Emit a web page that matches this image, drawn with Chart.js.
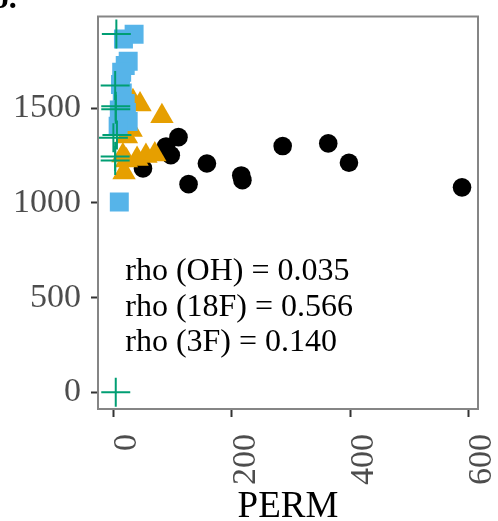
<!DOCTYPE html>
<html>
<head>
<meta charset="utf-8">
<script src="https://cdn.jsdelivr.net/npm/chart.js@4.4.0/dist/chart.umd.min.js"></script>
<style>
  html, body { margin: 0; padding: 0; background: #fff; }
</style>
</head>
<body>
<canvas id="permChart" width="498" height="521"></canvas>
<script>
// OH (black circles)
const ohPerm = [50, 89, 97, 110, 127, 158, 216, 218, 286, 363, 398, 589];
const ohVal  = [1182, 1298, 1252, 1347, 1099, 1208, 1145, 1120, 1300, 1314, 1212, 1082];
// 18F (orange triangles)
const f18Perm = [33, 45, 82, 22, 30, 16, 22, 40, 55, 70, 18];
const f18Val  = [1536, 1520, 1458, 1350, 1385, 1250, 1224, 1232, 1248, 1256, 1160];
// blue squares
const sqPerm = [35, 17, 25, 20, 14, 12, 15, 20, 10, 22, 18, 25, 8, 10];
const sqVal  = [1890, 1865, 1748, 1725, 1690, 1625, 1580, 1525, 1490, 1478, 1440, 1430, 1405, 1005];
// 3F (green crosses)
const f3Perm = [5, 3, 4, 4, 6, 0, 3, 3, 4];
const f3Val  = [1891, 1620, 1510, 1495, 1359, 1344, 1245, 1224, 0];

const xTicks = [0, 200, 400, 600];
const yTicks = [0, 500, 1000, 1500];
const rhoLabels = ["rho (OH) = 0.035", "rho (18F) = 0.566", "rho (3F) = 0.140"];
const rhoY = [635, 448, 260];
const rhoX = 20;

const serif = "'Liberation Serif', 'Times New Roman', serif";

function pts(xs, ys) {
  return xs.map((x, i) => ({ x: x, y: ys[i] }));
}

// no extra room for edge labels, the plot box is fixed
function noPad(s) {
  s.paddingLeft = 0; s.paddingRight = 0; s.paddingTop = 0; s.paddingBottom = 0;
}

const extras = {
  id: "extras",
  afterDatasetsDraw(chart) {
    const ctx = chart.ctx;
    const a = chart.chartArea;
    ctx.save();
    ctx.strokeStyle = "#858585";
    ctx.lineWidth = 2;
    ctx.strokeRect(a.left, a.top, a.right - a.left, a.bottom - a.top);
    // rho text
    const xs = chart.scales.x, ys = chart.scales.y;
    ctx.fillStyle = "#000";
    ctx.font = "32px " + serif;
    ctx.textAlign = "left";
    ctx.textBaseline = "middle";
    rhoLabels.forEach((t, i) => {
      ctx.fillText(t, xs.getPixelForValue(rhoX), ys.getPixelForValue(rhoY[i]));
    });
    // panel tag, cut off at the top
    ctx.font = "bold 32px " + serif;
    ctx.textBaseline = "alphabetic";
    ctx.fillText("b.", -9, 8);
    ctx.restore();
  }
};

new Chart(document.getElementById("permChart"), {
  type: "scatter",
  data: {
    datasets: [
      { data: pts(f3Perm, f3Val), pointStyle: "cross", pointRadius: 14.5, borderColor: "#009E73", borderWidth: 2, order: 0 },
      { data: pts(sqPerm, sqVal), pointStyle: "rect", pointRadius: 13.4, backgroundColor: "#56B4E9", borderWidth: 0, order: 1 },
      { data: pts(f18Perm, f18Val), pointStyle: "triangle", pointRadius: 13.5, backgroundColor: "#E69F00", borderWidth: 0, order: 2 },
      { data: pts(ohPerm, ohVal), pointStyle: "circle", pointRadius: 9.3, backgroundColor: "#000", borderWidth: 0, order: 3 }
    ]
  },
  options: {
    responsive: false,
    animation: false,
    layout: { padding: { top: 11, right: 20, left: 0, bottom: 0 } },
    plugins: { legend: { display: false }, tooltip: { enabled: false } },
    scales: {
      x: {
        type: "linear", min: -26, max: 616,
        afterBuildTicks: s => { s.ticks = xTicks.map(v => ({ value: v })); },
        afterFit: s => { s.height = 112; noPad(s); },
        grid: { drawOnChartArea: false, tickLength: 8, tickWidth: 2, tickColor: "#333" },
        border: { display: false },
        ticks: { minRotation: 90, maxRotation: 90, padding: 17, labelOffset: 14, color: "#4d4d4d",
                 font: { family: serif, size: 34 }, callback: v => String(v) },
        title: { display: true, text: "PERM", color: "#000", padding: { top: 0, bottom: -5 },
                 font: { family: serif, size: 37, lineHeight: 1 } }
      },
      y: {
        min: -88, max: 1984,
        afterBuildTicks: s => { s.ticks = yTicks.map(v => ({ value: v })); },
        afterFit: s => { s.width = 98; noPad(s); },
        grid: { drawOnChartArea: false, tickLength: 7, tickWidth: 2, tickColor: "#333" },
        border: { display: false },
        ticks: { padding: 10, color: "#4d4d4d", font: { family: serif, size: 34 }, callback: v => String(v) }
      }
    }
  },
  plugins: [extras]
});
</script>
</body>
</html>
